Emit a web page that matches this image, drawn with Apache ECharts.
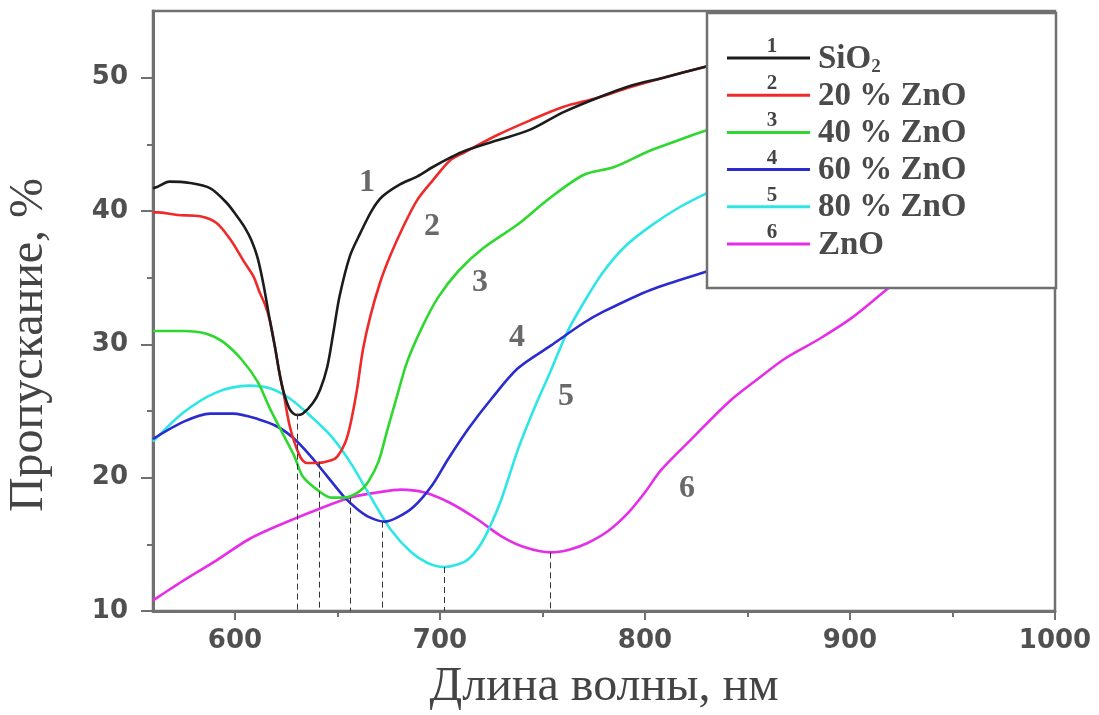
<!DOCTYPE html>
<html><head><meta charset="utf-8">
<script src="https://cdn.jsdelivr.net/npm/echarts@6/dist/echarts.min.js"></script>
<style>html,body{margin:0;padding:0;background:#fff}#c{width:1099px;height:715px}</style>
</head><body><div id="c"></div>
<script>
// ---- data ----
const seriesNames = ['SiO2', '20 % ZnO', '40 % ZnO', '60 % ZnO', '80 % ZnO', 'ZnO'];
const seriesNums = ['1', '2', '3', '4', '5', '6'];

const sio2 = [[560,41.7],[562,41.8],[568,42.2],[578,42.1],[588,41.7],[596,40.6],[601,39.6],[605,38.7],[608,37.8],[611,36.5],[614,34.4],[617,31.8],[619.5,29.8],[621.5,28.0],[623.4,26.6],[626.8,25.1],[630.2,24.7],[633,24.8],[638,25.6],[641.5,26.6],[645,28.3],[648,30.9],[651,33.6],[656,36.6],[661,38.3],[667,40.1],[672,41.1],[680.5,42.0],[689,42.6],[696.5,43.3],[705,44.0],[712,44.5],[728,45.3],[744,46.1],[760,47.4],[777,48.5],[793,49.4],[809,50.0],[829,50.8],[840,51.2]];
const zno20 = [[560,39.9],[562,39.9],[572,39.7],[583,39.6],[591,39.1],[598,37.8],[604,36.3],[609,35.1],[612,33.9],[614.6,33.0],[617,31.8],[619.5,29.8],[621.5,28.0],[623.4,26.6],[626.8,23.8],[631.7,21.6],[635,21.1],[640,21.1],[647,21.3],[650,21.6],[653.7,22.6],[656,23.8],[659.5,26.6],[662.4,29.6],[666,32.1],[670.7,34.6],[675.6,36.6],[682,38.8],[688.8,40.8],[696.5,42.3],[705,43.8],[712,44.4],[728,45.7],[744,46.8],[760,47.8],[777,48.5],[793,49.3],[809,50.0],[829,50.8],[840,51.2]];
const zno40 = [[560,31.0],[575,31.0],[586,30.8],[594,30.2],[603,28.9],[611,27.2],[617,25.2],[624,23.1],[629,21.6],[633,20.1],[640,19.1],[647,18.5],[653,18.5],[660,18.9],[665,19.7],[670,21.2],[674,23.4],[679,26.1],[684,28.7],[691,31.2],[699,33.5],[709,35.5],[721,37.2],[738,39.0],[753,40.9],[770,42.7],[785,43.3],[802,44.5],[818,45.4],[829,46.0],[840,46.4]];
const zno60 = [[560,22.9],[575,24.2],[588,24.8],[599,24.8],[611,24.4],[621,23.8],[629,22.9],[637,21.6],[645,20.1],[653,18.6],[660,17.6],[666,17.0],[673,16.7],[679,17.0],[687,17.8],[696,19.4],[704,21.4],[714,23.7],[725,25.9],[738,28.2],[754,29.9],[770,31.6],[779,32.4],[803,34.1],[831,35.5],[840,35.9]];
const zno80 = [[560,22.7],[575,24.9],[591,26.4],[607,26.9],[617,26.7],[627,25.9],[637,24.6],[647,23.1],[656,21.2],[666,18.6],[676,16.1],[686,14.4],[694,13.6],[702,13.3],[709,13.5],[714,13.9],[719,14.8],[724,16.2],[730,18.4],[738,22.1],[746,25.2],[754,28.0],[762,30.9],[770,33.1],[779,35.3],[790,37.3],[803,38.9],[817,40.3],[831,41.4],[840,42.0]];
const zno100 = [[560,10.8],[563,11.1],[575,12.3],[591,13.8],[607,15.4],[624,16.6],[640,17.6],[656,18.5],[670,18.9],[681,19.1],[692,18.9],[705,18.1],[718,16.9],[730,15.6],[741,14.8],[754,14.4],[763,14.6],[772,15.1],[782,16.0],[792,17.4],[800,18.9],[808,20.6],[824,23.1],[841,25.7],[855,27.4],[868,28.9],[885,30.4],[901,32.0],[917,34.0],[925,35.0]];

const minima = [[630.2,24.8],[641.3,21.2],[656,18.5],[672,16.7],[702,13.3],[754,14.4]];
const curveLabels = [[664.4,42.1],[696.1,38.8],[719.5,34.6],[737.6,30.5],[761.5,26.1],[820.5,19.2]];

const xTicks = [600, 700, 800, 900, 1000];
const xMinor = [650, 750, 850, 950];
const yTicks = [10, 20, 30, 40, 50];
const yMinor = [15, 25, 35, 45];

// ---- styling ----
const curves = [sio2, zno20, zno40, zno60, zno80, zno100];
const colors = ['#1c1c1c', '#ee2a2a', '#2fd82f', '#2b2bd0', '#2ee6e6', '#e62ee6'];
const axisGray = '#707070';
const labelFont = {fontFamily: 'DejaVu Sans', fontWeight: 'bold', fontSize: 26, color: '#505050'};
const titleFont = {fontFamily: 'Liberation Serif', fontSize: 48, color: '#444'};

const series = curves.map((d, i) => ({
  type: 'line', name: seriesNames[i], data: d, showSymbol: false, smooth: 0.3,
  xAxisIndex: 0, yAxisIndex: 0,
  lineStyle: {color: colors[i], width: 2.6}, itemStyle: {color: colors[i]}, z: 3 + (5 - i) * 0.01,
  markLine: {
    silent: true, symbol: ['none', 'none'], animation: false,
    label: {show: false},
    lineStyle: {color: '#333', type: [6, 4], width: 1},
    data: [[{coord: minima[i]}, {coord: [minima[i][0], 10]}]]
  }
}));
series.push({
  type: 'scatter', xAxisIndex: 0, yAxisIndex: 0, symbolSize: 1,
  itemStyle: {color: 'transparent'}, silent: true, z: 10,
  data: curveLabels.map((p, i) => ({value: p, label: {formatter: seriesNums[i]}})),
  label: {show: true, position: 'inside', fontFamily: 'Liberation Serif', fontWeight: 'bold', fontSize: 32, color: '#444'}
});

const graphics = [{
  type: 'rect', z: 100, shape: {x: 707, y: 13, width: 349, height: 275},
  style: {fill: '#fff', stroke: axisGray, lineWidth: 2.5}
}];
seriesNames.forEach((n, i) => {
  const y = 58 + i * 37.2;
  graphics.push({type: 'line', z: 101, shape: {x1: 727, y1: y, x2: 810, y2: y}, style: {stroke: colors[i], lineWidth: 3}});
  graphics.push({type: 'text', z: 101, x: 772, y: y - 1,
    style: {text: seriesNums[i], font: 'bold 21px "Liberation Serif"', fill: '#444', align: 'center', verticalAlign: 'bottom'}});
  const txt = i === 0 ? '{t|SiO}{s|2}' : '{t|' + n + '}';
  graphics.push({type: 'text', z: 101, x: 818, y: y + 1,
    style: {text: txt, fill: '#4a4a4a', align: 'left', verticalAlign: 'middle',
      rich: {t: {font: 'bold 33px "Liberation Serif"', fill: '#4a4a4a', lineHeight: 36},
             s: {font: 'bold 19px "Liberation Serif"', fill: '#4a4a4a', lineHeight: 36, verticalAlign: 'bottom', padding: [15, 0, 0, 0]}}}});
});

const option = {
  animation: false,
  backgroundColor: '#fff',
  grid: {left: 153, right: 44, top: 11, bottom: 104, containLabel: false, outerBoundsMode: 'none',
         show: true, borderColor: axisGray, borderWidth: 2.5, backgroundColor: 'transparent'},
  xAxis: [{
    type: 'value', min: 560, max: 1000, position: 'bottom',
    axisLine: {show: true, onZero: false, lineStyle: {color: axisGray, width: 3}},
    axisTick: {show: true, customValues: xTicks, length: 9, lineStyle: {color: axisGray, width: 2}},
    axisLabel: Object.assign({customValues: xTicks, margin: 17, formatter: v => String(v)}, labelFont),
    splitLine: {show: false},
    name: 'Длина волны, нм', nameLocation: 'middle', nameGap: 52, nameTextStyle: titleFont
  }, {
    type: 'value', min: 560, max: 1000, position: 'bottom', offset: 0,
    axisLine: {show: false}, axisLabel: {show: false}, splitLine: {show: false},
    axisTick: {show: true, customValues: xMinor, length: 6, lineStyle: {color: axisGray, width: 2}}
  }],
  yAxis: [{
    type: 'value', min: 10, max: 55, position: 'left',
    axisLine: {show: true, onZero: false, lineStyle: {color: axisGray, width: 3}},
    axisTick: {show: true, customValues: yTicks, length: 12, lineStyle: {color: axisGray, width: 2}},
    axisLabel: Object.assign({customValues: yTicks, margin: 25, formatter: v => String(v)}, labelFont),
    splitLine: {show: false},
    name: 'Пропускание, %', nameLocation: 'middle', nameGap: 100, nameRotate: 90,
    nameTextStyle: Object.assign({padding: [0, 68, 0, 0]}, titleFont)
  }, {
    type: 'value', min: 10, max: 55, position: 'left', offset: 0,
    axisLine: {show: false}, axisLabel: {show: false}, splitLine: {show: false},
    axisTick: {show: true, customValues: yMinor, length: 6, lineStyle: {color: axisGray, width: 2}}
  }],
  graphic: graphics,
  series: series
};
const chart = echarts.init(document.getElementById('c'), null, {renderer: 'canvas'});
chart.setOption(option);
</script></body></html>
